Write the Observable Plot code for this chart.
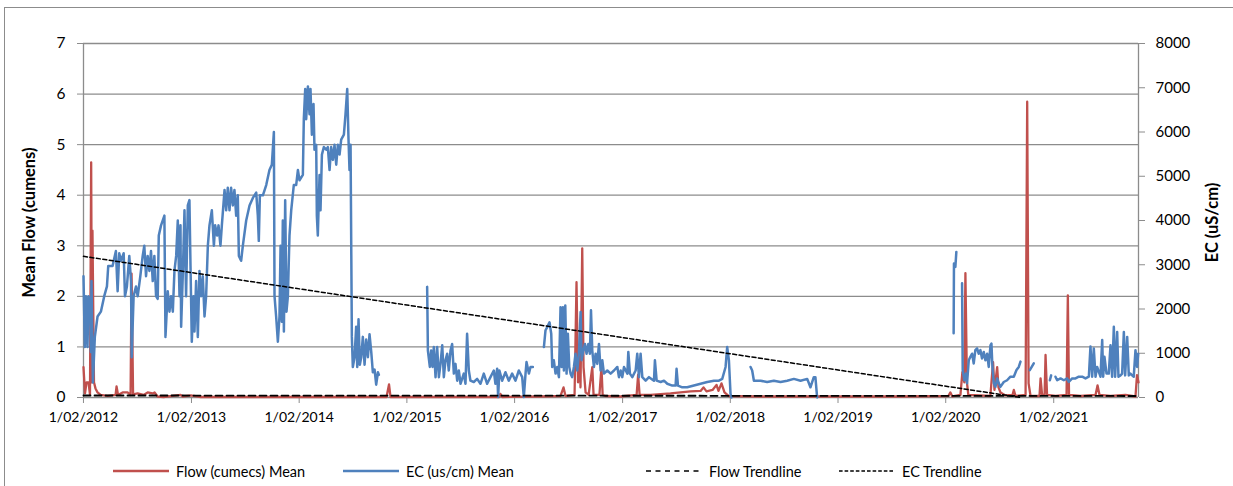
<!DOCTYPE html>
<html>
<head>
<meta charset="utf-8">
<script src="https://cdn.jsdelivr.net/npm/d3@7"></script>
<script src="https://cdn.jsdelivr.net/npm/@observablehq/plot@0.6"></script>
<style>
  html, body { margin: 0; padding: 0; background: #fff; }
  body { width: 1233px; height: 486px; position: relative; overflow: hidden; font-family: Lato, "Open Sans", sans-serif; }
  #frame { position: absolute; left: 4px; top: 7px; width: 1300px; height: 600px; border-left: 1.5px solid #8c8c8c; border-top: 1.5px solid #8c8c8c; box-sizing: border-box; }
  #chart { position: absolute; left: 0; top: 0; }
  #legend { position: absolute; left: 0; top: 461px; width: 1233px; height: 20px; font-size: 14.5px; color: #000; }
  .item { position: absolute; top: 0; height: 20px; display: flex; align-items: center; white-space: nowrap; }
  .item svg { margin-right: 7px; }
</style>
</head>
<body>
<div id="frame"></div>
<div id="chart"></div>
<div id="legend"></div>
<script>
// ---- Data (time as decimal year, EC in uS/cm, flow in cumecs) ----
const ecSeg1 = [[2012.085,2740],[2012.097,1140],[2012.107,2290],[2012.122,1140],[2012.131,2290],[2012.147,2170],[2012.153,1030],[2012.159,2630],[2012.172,340],[2012.190,1370],[2012.215,1830],[2012.246,1940],[2012.277,2290],[2012.302,2510],[2012.314,2970],[2012.354,2970],[2012.385,3310],[2012.401,2400],[2012.416,3260],[2012.432,3090],[2012.457,3260],[2012.469,2290],[2012.487,2510],[2012.509,3200],[2012.525,2630],[2012.531,910],[2012.549,2290],[2012.571,2510],[2012.587,2290],[2012.611,2740],[2012.633,3200],[2012.648,3430],[2012.664,2740],[2012.679,3200],[2012.695,2860],[2012.710,3310],[2012.726,2630],[2012.741,3200],[2012.757,2290],[2012.772,2230],[2012.782,3660],[2012.803,3890],[2012.834,4110],[2012.844,1370],[2012.865,2400],[2012.881,1940],[2012.896,2290],[2012.912,1940],[2012.927,2860],[2012.943,3200],[2012.958,4000],[2012.974,2290],[2012.983,3890],[2012.989,1600],[2013.004,2740],[2013.020,4230],[2013.035,2290],[2013.051,4340],[2013.066,4460],[2013.076,2970],[2013.088,1260],[2013.104,2290],[2013.113,1490],[2013.128,2630],[2013.144,1370],[2013.159,2860],[2013.175,2290],[2013.190,2740],[2013.206,1830],[2013.221,2290],[2013.237,3430],[2013.252,3890],[2013.274,4230],[2013.293,3430],[2013.305,3890],[2013.323,3660],[2013.336,3890],[2013.354,3430],[2013.367,3890],[2013.392,4690],[2013.407,4230],[2013.422,4740],[2013.438,4230],[2013.453,4740],[2013.469,4340],[2013.484,4690],[2013.500,4110],[2013.515,4570],[2013.525,3200],[2013.546,3090],[2013.562,3430],[2013.593,4000],[2013.624,4340],[2013.655,4510],[2013.686,4630],[2013.701,4110],[2013.710,3540],[2013.720,4570],[2013.748,4570],[2013.779,4800],[2013.809,5140],[2013.831,5260],[2013.850,6000],[2013.856,2290],[2013.871,1830],[2013.887,1260],[2013.902,1830],[2013.912,3430],[2013.924,1710],[2013.933,4000],[2013.943,1490],[2013.955,4460],[2013.967,1940],[2013.980,2290],[2013.995,3660],[2014.011,4230],[2014.035,4800],[2014.057,4800],[2014.073,5140],[2014.088,4910],[2014.119,5030],[2014.128,6290],[2014.141,6970],[2014.150,6290],[2014.166,7030],[2014.181,6400],[2014.190,6970],[2014.203,5940],[2014.218,6630],[2014.227,5600],[2014.243,5710],[2014.249,4110],[2014.258,3660],[2014.274,5030],[2014.283,4230],[2014.296,5490],[2014.314,5660],[2014.336,5600],[2014.351,5660],[2014.367,5140],[2014.382,5660],[2014.398,5370],[2014.413,5710],[2014.429,5260],[2014.444,5710],[2014.460,5490],[2014.475,5830],[2014.500,5940],[2014.515,6400],[2014.531,6970],[2014.543,5830],[2014.552,5140],[2014.562,5710],[2014.574,1370],[2014.583,690],[2014.599,910],[2014.614,1600],[2014.624,690],[2014.636,1770],[2014.648,740],[2014.661,910],[2014.676,1370],[2014.692,740],[2014.707,1310],[2014.723,910],[2014.738,1430],[2014.754,1030],[2014.769,570],[2014.785,630],[2014.800,290],[2014.816,570],[2014.825,510]];
const ecSeg2 = [[2015.273,2500],[2015.280,1060],[2015.298,690],[2015.310,1060],[2015.323,690],[2015.335,1140],[2015.351,460],[2015.366,1140],[2015.382,460],[2015.397,760],[2015.413,1180],[2015.428,460],[2015.443,840],[2015.459,990],[2015.474,610],[2015.490,1060],[2015.505,1210],[2015.521,540],[2015.536,760],[2015.552,380],[2015.567,610],[2015.583,310],[2015.613,540],[2015.629,310],[2015.644,1440],[2015.660,610],[2015.675,380],[2015.706,350],[2015.737,420],[2015.768,310],[2015.799,540],[2015.830,310],[2015.861,460],[2015.892,610],[2015.907,310],[2015.923,650],[2015.932,10],[2015.944,610],[2015.969,380],[2016.000,570],[2016.031,380],[2016.062,540],[2016.093,380],[2016.124,610],[2016.155,460],[2016.170,10],[2016.186,540],[2016.195,800],[2016.217,540],[2016.232,690],[2016.254,690]];
const ecSeg3 = [[2016.356,1140],[2016.371,1520],[2016.387,1590],[2016.408,1700],[2016.424,1440],[2016.433,690],[2016.448,840],[2016.464,540],[2016.479,690],[2016.495,460],[2016.510,2040],[2016.520,690],[2016.532,2040],[2016.541,610],[2016.554,2080],[2016.566,540],[2016.578,1440],[2016.591,690],[2016.603,540],[2016.618,460],[2016.634,690],[2016.649,990],[2016.665,610],[2016.680,990],[2016.696,1930],[2016.705,840],[2016.721,1060],[2016.736,1210],[2016.751,990],[2016.767,1210],[2016.782,990],[2016.792,1970],[2016.804,1060],[2016.819,690],[2016.835,990],[2016.850,760],[2016.866,1210],[2016.881,610],[2016.897,840],[2016.912,540],[2016.943,610],[2016.974,540],[2017.005,610],[2017.036,690],[2017.051,460],[2017.067,610],[2017.082,460],[2017.098,690],[2017.129,540],[2017.138,1030],[2017.153,540],[2017.175,460],[2017.206,610],[2017.221,990],[2017.237,460],[2017.252,990],[2017.268,460],[2017.299,380],[2017.330,460],[2017.376,380],[2017.385,840],[2017.401,380],[2017.438,350],[2017.469,380],[2017.500,310],[2017.546,270],[2017.577,270],[2017.586,650],[2017.599,270],[2017.639,230],[2017.685,230],[2017.747,270],[2017.809,310],[2017.871,350],[2017.933,380],[2017.979,380],[2018.010,420],[2018.041,690],[2018.056,1140],[2018.072,840],[2018.087,80],[2018.096,0]];
const ecSeg4 = [[2018.273,690],[2018.288,610],[2018.304,380],[2018.366,380],[2018.427,350],[2018.489,380],[2018.551,350],[2018.613,380],[2018.675,420],[2018.737,380],[2018.799,420],[2018.829,230],[2018.860,460],[2018.875,460],[2018.891,0]];
const ecSeg5 = [[2020.158,1450],[2020.161,3030],[2020.174,2950],[2020.183,3290]];
const ecSeg6 = [[2020.236,2580],[2020.242,620],[2020.257,390],[2020.273,540],[2020.282,320],[2020.298,840],[2020.313,920],[2020.329,990],[2020.344,770],[2020.359,1070],[2020.375,1110],[2020.390,990],[2020.406,1070],[2020.421,880],[2020.437,1030],[2020.452,840],[2020.468,990],[2020.483,690],[2020.499,1180],[2020.508,1220],[2020.517,690],[2020.530,320],[2020.545,240],[2020.561,430],[2020.576,320],[2020.591,240],[2020.622,350],[2020.653,390],[2020.684,470],[2020.715,470],[2020.740,620],[2020.761,690],[2020.777,810]];
const ecSeg7 = [[2020.863,620],[2020.900,770]];
const ecSeg8 = [[2021.049,390],[2021.061,500]];
const ecSeg9 = [[2021.101,470],[2021.117,390],[2021.148,430],[2021.179,390],[2021.210,430],[2021.225,350],[2021.256,430],[2021.287,430],[2021.318,470],[2021.349,470],[2021.380,430],[2021.411,470],[2021.426,1150],[2021.442,470],[2021.457,1110],[2021.473,470],[2021.488,690],[2021.519,470],[2021.535,1300],[2021.544,470],[2021.556,920],[2021.575,540],[2021.596,540],[2021.612,1180],[2021.627,470],[2021.643,1600],[2021.655,470],[2021.674,1480],[2021.686,470],[2021.705,500],[2021.720,540],[2021.736,1480],[2021.748,500],[2021.767,1370],[2021.782,500],[2021.797,540],[2021.813,500],[2021.828,470],[2021.844,1070],[2021.859,690],[2021.869,990]];

const flowSeries = [[2012.085,0.6],[2012.099,0.08],[2012.113,0.3],[2012.131,0.3],[2012.145,0.06],[2012.156,4.65],[2012.164,0.3],[2012.168,3.3],[2012.182,0.3],[2012.196,0.18],[2012.215,0.1],[2012.243,0.05],[2012.308,0.03],[2012.382,0.05],[2012.391,0.22],[2012.405,0.05],[2012.447,0.1],[2012.493,0.1],[2012.521,0.05],[2012.530,2.45],[2012.544,0.06],[2012.586,0.08],[2012.642,0.05],[2012.679,0.1],[2012.725,0.08],[2012.743,0.1],[2012.771,0.02],[2012.827,0.01],[2012.985,0.05],[2013.004,0.02],[2013.078,0.04],[2013.170,0.01],[2013.634,0.01],[2014.098,0.01],[2014.562,0.01],[2014.896,0.01],[2014.919,0.26],[2014.933,0.01],[2015.490,0.01],[2015.944,0.01],[2015.953,0.07],[2015.972,0.01],[2016.324,0.02],[2016.510,0.03],[2016.538,0.2],[2016.556,0.03],[2016.640,0.05],[2016.658,2.28],[2016.672,0.3],[2016.686,1.0],[2016.695,0.2],[2016.711,2.95],[2016.723,0.6],[2016.742,0.1],[2016.770,0.05],[2016.804,0.6],[2016.816,0.05],[2016.870,0.05],[2016.889,0.6],[2016.900,0.05],[2016.927,0.03],[2017.066,0.02],[2017.215,0.05],[2017.229,0.45],[2017.243,0.05],[2017.345,0.05],[2017.530,0.08],[2017.716,0.12],[2017.809,0.13],[2017.836,0.2],[2017.864,0.12],[2017.920,0.15],[2017.957,0.25],[2017.975,0.13],[2018.003,0.28],[2018.031,0.1],[2018.068,0.03],[2018.365,0.02],[2018.736,0.02],[2019.664,0.02],[2020.109,0.03],[2020.128,0.1],[2020.146,0.02],[2020.221,0.05],[2020.239,0.5],[2020.257,0.3],[2020.267,2.46],[2020.281,0.3],[2020.294,0.05],[2020.498,0.03],[2020.523,0.7],[2020.536,0.15],[2020.561,0.6],[2020.573,0.2],[2020.592,0.1],[2020.638,0.04],[2020.703,0.05],[2020.715,0.15],[2020.731,0.03],[2020.824,0.05],[2020.839,5.85],[2020.852,0.28],[2020.870,0.03],[2020.953,0.03],[2020.963,0.38],[2020.977,0.05],[2021.000,0.05],[2021.009,0.84],[2021.023,0.05],[2021.102,0.03],[2021.204,0.05],[2021.216,2.02],[2021.227,0.05],[2021.334,0.03],[2021.473,0.05],[2021.492,0.24],[2021.510,0.05],[2021.612,0.03],[2021.751,0.05],[2021.844,0.02],[2021.858,0.44],[2021.872,0.3]];

const flowTrend = [[2012.085,0.04],[2021.872,0.03]];
const ecTrend = [[2012.085,3190],[2020.78,0]];

const tickYears = [2012,2013,2014,2015,2016,2017,2018,2019,2020,2021];
const flowTicks = [0,1,2,3,4,5,6,7];
const ecTicks = [0,1000,2000,3000,4000,5000,6000,7000,8000];
const xStart = 2012.085, xEnd = 2021.872;

// ---- helpers ----
function toDate(t) {
  const y = Math.floor(t);
  const s = Date.UTC(y, 0, 1), e = Date.UTC(y + 1, 0, 1);
  return new Date(s + (t - y) * (e - s));
}
const EC2L = 7 / 8000; // secondary axis to primary axis ratio
const ecSegs = [ecSeg1, ecSeg2, ecSeg3, ecSeg4, ecSeg5, ecSeg6, ecSeg7, ecSeg8, ecSeg9];
const ecData = ecSegs.flatMap((seg, i) => seg.map(([t, v]) => ({date: toDate(t), y: v * EC2L, seg: i})));
const flowData = flowSeries.map(([t, v]) => ({date: toDate(t), y: v}));
const flowTrendData = flowTrend.map(([t, v]) => ({date: toDate(t), y: v}));
const ecTrendData = ecTrend.map(([t, v]) => ({date: toDate(t), y: v * EC2L}));
const xTicks = tickYears.map(y => new Date(Date.UTC(y, 1, 1)));

const RED = "#C0504D", BLUE = "#4F81BD", GRID = "#8c8c8c";

const chart = Plot.plot({
  width: 1233,
  height: 440,
  marginTop: 43,
  marginLeft: 83,
  marginRight: 95,
  marginBottom: 43,
  style: {fontFamily: "Lato, sans-serif", fontSize: "14px", color: "#000", background: "transparent"},
  x: {type: "utc", domain: [toDate(xStart), toDate(xEnd)]},
  y: {domain: [0, 7]},
  marks: [
    Plot.gridY(flowTicks.slice(1), {stroke: GRID, strokeOpacity: 1, strokeWidth: 1.3}),
    Plot.ruleY([0], {stroke: GRID, strokeWidth: 1.3}),
    Plot.ruleX([toDate(xStart), toDate(xEnd)], {stroke: GRID, strokeWidth: 1.3}),
    Plot.axisY({ticks: flowTicks, tickFormat: d => String(d), tickSize: 6, tickPadding: 12, stroke: GRID, fontSize: 15.5, label: null}),
    Plot.axisY({anchor: "right", ticks: ecTicks.map(v => v * EC2L), tickFormat: v => String(Math.round(v / EC2L)), tickSize: 6, tickPadding: 11, stroke: GRID, fontSize: 15, label: null}),
    Plot.axisX({ticks: xTicks, tickFormat: d => `1/02/${d.getUTCFullYear()}`, tickSize: 6, tickPadding: 9, stroke: GRID, fontSize: 14, label: null}),
    Plot.text(["Mean Flow (cumens)"], {frameAnchor: "left", textAnchor: "middle", dx: -54, dy: 2, rotate: -90, fontWeight: "bold", fontSize: 16.5}),
    Plot.text(["EC (uS/cm)"], {frameAnchor: "right", textAnchor: "middle", dx: 74, dy: 2, rotate: -90, fontWeight: "bold", fontSize: 16.5}),
    Plot.line(flowData, {x: "date", y: "y", stroke: RED, strokeWidth: 2.3, curve: "linear"}),
    Plot.line(ecData, {x: "date", y: "y", z: "seg", stroke: BLUE, strokeWidth: 2.5, curve: "linear"}),
    Plot.line(flowTrendData, {x: "date", y: "y", stroke: "#000", strokeWidth: 1.8, strokeDasharray: "7,4"}),
    Plot.line(ecTrendData, {x: "date", y: "y", stroke: "#000", strokeWidth: 1.5, strokeDasharray: "4,2.5"})
  ]
});
document.getElementById("chart").appendChild(chart);

// ---- Legend ----
const legendItems = [
  {label: "Flow (cumecs) Mean", color: RED, dash: null, width: 2.5, left: 113},
  {label: "EC (us/cm) Mean", color: BLUE, dash: null, width: 2.5, left: 343},
  {label: "Flow Trendline", color: "#000", dash: "5,4.5", width: 1.6, left: 646},
  {label: "EC Trendline", color: "#000", dash: "3.6,2", width: 1.4, left: 839}
];
const legend = document.getElementById("legend");
for (const it of legendItems) {
  const div = document.createElement("div");
  div.className = "item";
  div.style.left = it.left + "px";
  div.innerHTML = `<svg width="56" height="6"><line x1="0" x2="56" y1="3" y2="3" stroke="${it.color}" stroke-width="${it.width}" ${it.dash ? `stroke-dasharray="${it.dash}"` : ""}/></svg><span>${it.label}</span>`;
  legend.appendChild(div);
}
</script>
</body>
</html>
